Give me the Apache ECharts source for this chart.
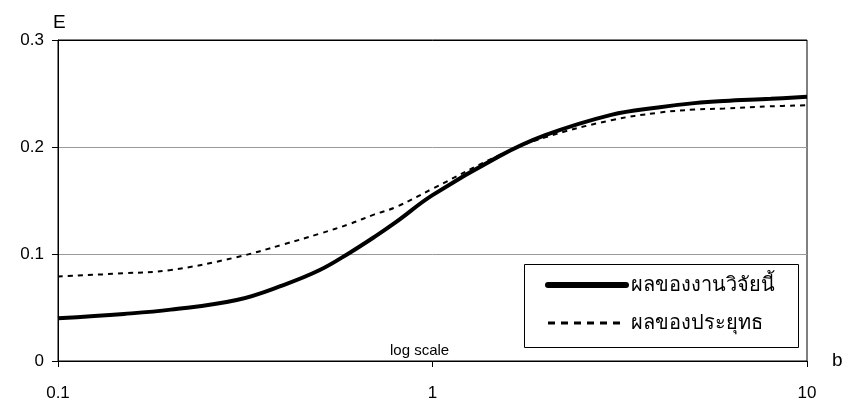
<!DOCTYPE html>
<html>
<head>
<meta charset="utf-8">
<script src="https://cdn.jsdelivr.net/npm/echarts@6/dist/echarts.min.js"></script>
<style>html,body{margin:0;padding:0;background:#fff}#c{width:846px;height:403px}</style>
</head>
<body>
<div id="c"></div>
<script>
const bValues = [0.1, 0.15, 0.2, 0.3, 0.4, 0.5, 0.6, 0.7, 0.8, 1, 1.5, 2, 3, 4, 5, 6, 8, 10];
const thisWork = [0.040, 0.044, 0.048, 0.057, 0.071, 0.085, 0.101, 0.116, 0.130, 0.155, 0.191, 0.211, 0.230, 0.237, 0.241, 0.243, 0.245, 0.247];
const prayut = [0.079, 0.082, 0.085, 0.097, 0.109, 0.119, 0.128, 0.137, 0.144, 0.161, 0.192, 0.209, 0.225, 0.232, 0.235, 0.236, 0.238, 0.239];
const seriesNames = ['ผลของงานวิจัยนี้', 'ผลของประยุทธ'];
const yTicks = [0, 0.1, 0.2, 0.3];

const FONT = "'Liberation Sans', Arial, sans-serif";
const chart = echarts.init(document.getElementById('c'));
chart.setOption({
  animation: false,
  backgroundColor: '#fff',
  grid: { left: 58, right: 39, top: 40, bottom: 42, show: true, borderColor: '#000', borderWidth: 1 },
  xAxis: {
    type: 'log', logBase: 10, min: 0.1, max: 10,
    name: 'b', nameLocation: 'end', nameGap: 25,
    nameTextStyle: { fontFamily: FONT, fontSize: 19, color: '#000', verticalAlign: 'middle', padding: [0, 0, 0, 0] },
    axisLine: { lineStyle: { color: '#000', width: 1 } },
    axisTick: { show: true, length: 6, lineStyle: { color: '#000' } },
    axisLabel: { fontFamily: FONT, fontSize: 17, color: '#000', margin: 24, formatter: v => String(v) },
    splitLine: { show: false },
    minorTick: { show: false }
  },
  yAxis: {
    type: 'value', min: yTicks[0], max: yTicks[yTicks.length - 1], interval: 0.1,
    name: 'E', nameLocation: 'end', nameGap: 8,
    nameTextStyle: { fontFamily: FONT, fontSize: 19, color: '#000', align: 'left', padding: [0, 0, 0, -5] },
    axisLine: { show: true, lineStyle: { color: '#000', width: 1 } },
    axisTick: { show: true, length: 6, lineStyle: { color: '#000' } },
    axisLabel: { fontFamily: FONT, fontSize: 17, color: '#000', margin: 14, formatter: v => (v === 0 ? '0' : v.toFixed(1)) },
    splitLine: { show: true, lineStyle: { color: ['#000', '#999', '#999', '#000'], width: 1 } }
  },
  legend: {
    orient: 'vertical', left: 545, top: 275, padding: 0, itemWidth: 78, itemHeight: 20, itemGap: 18,
    textStyle: { fontFamily: FONT, fontSize: 20, color: '#000' },
    itemStyle: { opacity: 0 },
    data: [
      { name: seriesNames[0], lineStyle: { width: 6, color: '#000', cap: 'round' } },
      { name: seriesNames[1], lineStyle: { width: 3, type: [7, 6], color: '#000' } }
    ]
  },
  graphic: [
    { type: 'rect', left: 522, top: 262, shape: { width: 274, height: 83 }, style: { fill: 'none', stroke: '#000', lineWidth: 1 }, z: 0 },
    { type: 'text', left: 390, top: 343, style: { text: 'log scale', font: '15px ' + FONT, fill: '#000' } }
  ],
  series: [
    {
      name: seriesNames[0], type: 'line', smooth: 0.4, symbol: 'none',
      itemStyle: { color: '#000' },
      lineStyle: { color: '#000', width: 4 },
      data: bValues.map((b, i) => [b, thisWork[i]]), z: 3
    },
    {
      name: seriesNames[1], type: 'line', smooth: 0.4, symbol: 'none',
      itemStyle: { color: '#000' },
      lineStyle: { color: '#000', width: 2, type: [5, 5] },
      data: bValues.map((b, i) => [b, prayut[i]]), z: 2
    }
  ]
});
</script>
</body>
</html>
